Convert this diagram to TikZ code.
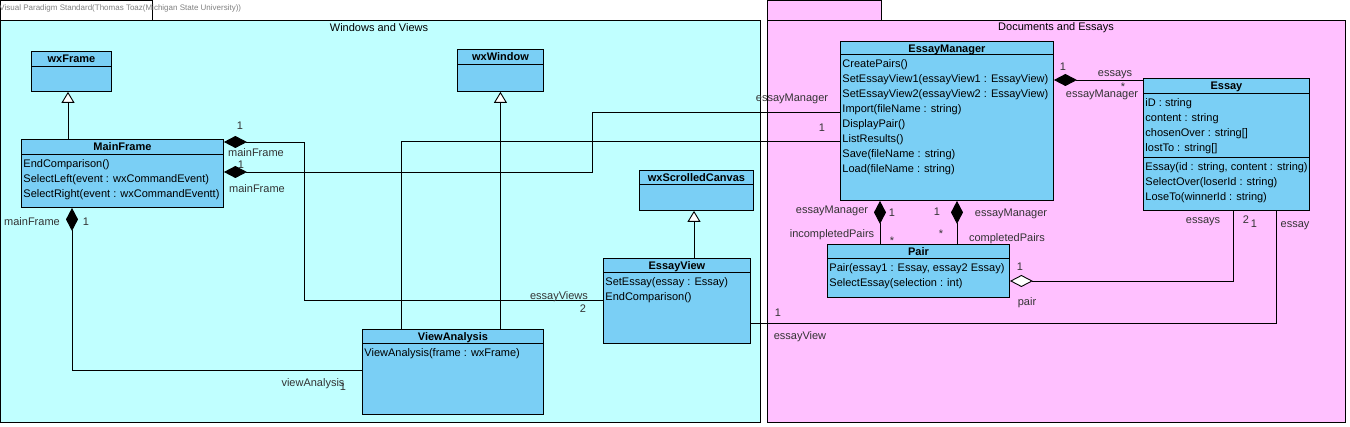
\documentclass[tikz,border=0pt]{standalone}
\usepackage{fontspec}
\setmainfont{Liberation Sans}
\usepackage{xcolor}
\usepackage{tikz}
\usetikzlibrary{arrows.meta,positioning}

\definecolor{viewpkg}{RGB}{192,255,255}
\definecolor{docpkg}{RGB}{255,192,255}
\definecolor{classfill}{RGB}{122,207,245}

\begin{document}
\begin{tikzpicture}[x=1pt,y=-1pt,font=\fontsize{11}{15}\selectfont,line width=0.9pt,
  umlclass/.style={draw,fill=classfill,anchor=north west,inner sep=0pt},
  classname/.style={anchor=north,font=\fontsize{11}{15}\selectfont\bfseries,inner sep=0pt,text height=8pt,text depth=3pt},
  member/.style={anchor=west,inner sep=0pt,text height=8pt,text depth=3pt},
  role/.style={inner sep=0pt,text height=8pt,text depth=3pt,text=black!80},
  comp/.style={{Diamond[length=23pt,width=12pt]}-},
  aggr/.style={{Diamond[open,fill=white,length=23pt,width=12pt]}-},
  inherit/.style={-{Triangle[open,fill=white,length=11pt,width=13pt]}}]

\useasboundingbox (0,0) rectangle (1350,427);

% --- Packages ---
\draw[fill=white] (0,0) rectangle (152,20);
\draw[fill=viewpkg] (0,20) rectangle (760,422);
\draw[fill=docpkg] (767,0) rectangle (881,20);
\draw[fill=docpkg] (767,20) rectangle (1345,422);
\node[anchor=west,inner sep=0pt,font=\fontsize{8}{10}\selectfont,text=gray] (watermark) at (-1,8) {Visual Paradigm Standard(Thomas Toaz(Michigan State University))};
\node (viewtitle) at (379,28) {Windows and Views};
\node (doctitle) at (1056,28) {Documents and Essays};

% --- Windows and Views ---
\node[umlclass,minimum width=80pt,minimum height=40pt] (wxframe) at (31,51) {};
\node[classname,below=3pt of wxframe.north] (wxframe-t) {wxFrame};
\draw (wxframe.west |- 0,66) -- (wxframe.east |- 0,66);

\node[umlclass,minimum width=202pt,minimum height=68pt] (mainframe) at (21,139) {};
\node[classname,below=3pt of mainframe.north] (mainframe-t) {MainFrame};
\draw (mainframe.west |- 0,154) -- (mainframe.east |- 0,154);
\foreach \m [count=\i] in {EndComparison(), {SelectLeft(event : wxCommandEvent)}, {SelectRight(event : wxCommandEventt)}}
  \node[member] (mainframe-m\i) at (23,150.5+15*\i) {\m};

\node[umlclass,minimum width=86pt,minimum height=42pt] (wxwindow) at (457,49) {};
\node[classname,below=3pt of wxwindow.north] (wxwindow-t) {wxWindow};
\draw (wxwindow.west |- 0,64) -- (wxwindow.east |- 0,64);

\node[umlclass,minimum width=114pt,minimum height=40pt] (wxcanvas) at (639,170) {};
\node[classname,below=3pt of wxcanvas.north] (wxcanvas-t) {wxScrolledCanvas};
\draw (wxcanvas.west |- 0,184) -- (wxcanvas.east |- 0,184);

\node[umlclass,minimum width=147pt,minimum height=85pt] (essayview) at (603,258) {};
\node[classname,below=3pt of essayview.north] (essayview-t) {EssayView};
\draw (essayview.west |- 0,272) -- (essayview.east |- 0,272);
\foreach \m [count=\i] in {{SetEssay(essay : Essay)}, EndComparison()}
  \node[member] (essayview-m\i) at (605,268.5+15*\i) {\m};

\node[umlclass,minimum width=181pt,minimum height=85pt] (viewanalysis) at (362,329) {};
\node[classname,below=3pt of viewanalysis.north] (viewanalysis-t) {ViewAnalysis};
\draw (viewanalysis.west |- 0,343) -- (viewanalysis.east |- 0,343);
\node[member] (viewanalysis-m1) at (364,354.5) {ViewAnalysis(frame : wxFrame)};

% --- Documents and Essays ---
\node[umlclass,minimum width=213pt,minimum height=159pt] (essaymanager) at (840,41) {};
\node[classname,below=3pt of essaymanager.north] (essaymanager-t) {EssayManager};
\draw (essaymanager.west |- 0,54) -- (essaymanager.east |- 0,54);
\foreach \m [count=\i] in {CreatePairs(), {SetEssayView1(essayView1 : EssayView)}, {SetEssayView2(essayView2 : EssayView)},
    {Import(fileName : string)}, DisplayPair(), ListResults(), {Save(fileName : string)}, {Load(fileName : string)}}
  \node[member] (essaymanager-m\i) at (842,50.5+15*\i) {\m};

\node[umlclass,minimum width=166pt,minimum height=132pt] (essay) at (1143,78) {};
\node[classname,below=3pt of essay.north] (essay-t) {Essay};
\draw (essay.west |- 0,93) -- (essay.east |- 0,93);
\draw (essay.west |- 0,157) -- (essay.east |- 0,157);
\foreach \m [count=\i] in {{iD : string}, {content : string}, {chosenOver : string[]}, {lostTo : string[]}}
  \node[member] (essay-a\i) at (1145,89.5+15*\i) {\m};
\foreach \m [count=\i] in {{Essay(id : string, content : string)}, {SelectOver(loserId : string)}, {LoseTo(winnerId : string)}}
  \node[member] (essay-m\i) at (1145,153.5+15*\i) {\m};

\node[umlclass,minimum width=182pt,minimum height=53pt] (pair) at (827,244) {};
\node[classname,below=3pt of pair.north] (pair-t) {Pair};
\draw (pair.west |- 0,258) -- (pair.east |- 0,258);
\foreach \m [count=\i] in {{Pair(essay1 : Essay, essay2 Essay)}, {SelectEssay(selection : int)}}
  \node[member] (pair-m\i) at (829,254.5+15*\i) {\m};

% --- Generalizations ---
\draw[inherit] (mainframe.north -| 68,0) -- (wxframe.south -| 68,0);
\draw[inherit] (viewanalysis.north -| wxwindow.south) -- (wxwindow.south);
\draw[inherit] (essayview.north -| 694,0) -- (wxcanvas.south -| 694,0);

% --- Associations ---
\draw[comp] (mainframe.east |- 0,142) -- (304,142) |- (essayview.west |- 0,300);
\draw[comp] (mainframe.east |- 0,172) -- (592,172) |- (essaymanager.west |- 0,112);
\draw[comp] (mainframe.south -| 72,0) |- (viewanalysis.west |- 0,370);
\draw (viewanalysis.north -| 401,0) |- (essaymanager.west |- 0,141);
\draw (essayview.east |- 0,323) -| (essay.south -| 1276,0);
\draw[comp] (essaymanager.east |- 0,80) -- (essay.west |- 0,80);
\draw[comp] (essaymanager.south -| 880,0) -- (pair.north -| 880,0);
\draw[comp] (essaymanager.south -| 957,0) -- (pair.north -| 957,0);
\draw[aggr] (pair.east |- 0,281) -| (essay.south -| 1233,0);

% Role names and multiplicities
\node[role] (mf-r1) at (240,127) {1};
\node[role] (mf-n1) at (256,154) {mainFrame};
\node[role] (mf-r2) at (241,166) {1};
\node[role] (mf-n2) at (257,190) {mainFrame};
\node[role] (mf-n3) at (32,223) {mainFrame};
\node[role] (mf-r3) at (86,223) {1};
\node[role] (va-n) at (313,384) {viewAnalysis};
\node[role] (va-r) at (343,388) {1};
\node[role] (ev-n1) at (559,297) {essayViews};
\node[role] (ev-r1) at (583,310) {2};
\node[role] (ev-r2) at (778,314) {1};
\node[role] (ev-n2) at (800,337) {essayView};
\node[role] (em-n1) at (792,99) {essayManager};
\node[role] (em-r1) at (822,129) {1};
\node[role] (em-r2) at (1063,68) {1};
\node[role] (es-n1) at (1115,74) {essays};
\node[role] (es-s1) at (1123,88) {*};
\node[role] (em-n2) at (1102,95) {essayManager};
\node[role] (em-n3) at (832,211) {essayManager};
\node[role] (em-r3) at (892,214) {1};
\node[role] (pr-n1) at (832,235) {incompletedPairs};
\node[role] (pr-s1) at (892,242) {*};
\node[role] (em-r4) at (937,213) {1};
\node[role] (em-n4) at (1011,214) {essayManager};
\node[role] (pr-s2) at (941,235) {*};
\node[role] (pr-n2) at (1007,239) {completedPairs};
\node[role] (pr-r) at (1020,268) {1};
\node[role] (pr-n) at (1027,303) {pair};
\node[role] (es-n2) at (1203,221) {essays};
\node[role] (es-r2) at (1246,221) {2};
\node[role] (es-r3) at (1254,225) {1};
\node[role] (es-n3) at (1295,225) {essay};

\end{tikzpicture}
\end{document}
